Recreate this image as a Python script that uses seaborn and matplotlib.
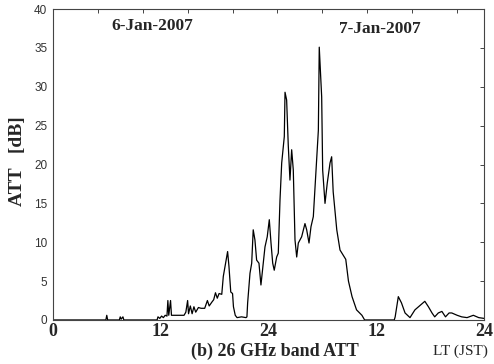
import numpy as np
import matplotlib
matplotlib.use("Agg")
import matplotlib.pyplot as plt
import seaborn as sns

# ---------------------------
# data
# ---------------------------
hours = [0.0, 5.9, 6.0, 6.1, 7.4, 7.5, 7.6, 7.8, 7.9, 11.6, 11.7, 11.9, 12.1,
         12.3, 12.5, 12.7, 12.8, 12.9, 13.1, 13.2, 13.5, 14.0, 14.6, 14.8,
         15.0, 15.1, 15.3, 15.5, 15.7, 15.9, 16.2, 16.5, 16.9, 17.2, 17.4,
         17.7, 17.9, 18.1, 18.3, 18.5, 18.8, 18.97, 19.34, 19.45, 19.6, 19.8,
         20.0, 20.1, 20.3, 20.5, 21.0, 21.5, 21.6, 21.68, 21.94, 22.13, 22.3,
         22.49, 22.68, 22.94, 23.16, 23.42, 23.61, 23.86, 24.09, 24.28, 24.47,
         24.64, 24.91, 25.09, 25.28, 25.47, 25.76, 25.84, 26.02, 26.2, 26.39,
         26.58, 26.76, 26.95, 27.14, 27.32, 27.69, 28.06, 28.25, 28.51, 28.73,
         28.99, 29.18, 29.55, 29.65, 29.92, 30.03, 30.29, 30.54, 30.85, 31.03,
         31.2, 31.6, 31.96, 32.6, 32.9, 33.3, 33.8, 34.4, 34.7, 38.0, 38.1,
         38.45, 38.8, 39.2, 39.75, 40.3, 40.9, 41.4, 41.8, 42.2, 42.5, 42.9,
         43.3, 43.7, 44.1, 44.4, 45.0, 45.5, 46.1, 46.8, 47.4, 48.0]
att_db = [0.0, 0.0, 0.6, 0.0, 0.0, 0.4, 0.1, 0.4, 0.0, 0.0, 0.4, 0.2, 0.5,
          0.3, 0.6, 0.5, 2.5, 0.6, 2.5, 0.6, 0.6, 0.6, 0.6, 1.0,
          2.5, 0.8, 1.8, 0.8, 1.7, 1.0, 1.6, 1.5, 1.5, 2.5, 1.8,
          2.3, 2.6, 3.5, 2.8, 3.4, 3.3, 5.6, 8.1, 8.8, 6.9, 3.6,
          3.4, 1.7, 0.6, 0.3, 0.4, 0.3, 0.4, 2.2, 6.0, 7.3, 11.6,
          10.3, 7.7, 7.3, 4.5, 7.3, 9.4, 10.7, 12.9, 9.9, 7.3,
          6.4, 8.1, 8.6, 15.4, 20.2, 23.6, 29.3, 28.3, 22.5, 18.0,
          21.9, 19.3, 10.3, 8.1, 9.9, 10.7, 12.4, 11.6, 9.9, 12.0,
          13.3, 17.1, 24.4, 35.1, 28.7, 19.3, 15.0, 17.6, 20.2, 21.0,
          16.5, 11.6, 9.0, 7.8, 5.0, 3.0, 1.3, 0.6, 0.0, 0.0, 0.4,
          3.0, 2.2, 0.9, 0.3, 1.3, 1.9, 2.4, 1.7, 0.9, 0.4, 0.9,
          1.1, 0.4, 0.9, 0.9, 0.6, 0.4, 0.3, 0.6, 0.3, 0.2]

x_tick_pos = [0, 12, 24, 36, 48]
x_tick_labels = ["0", "12", "24", "12", "24"]
day_labels = ["6-Jan-2007", "7-Jan-2007"]

# ---------------------------
# plot
# ---------------------------
sns.set_style("white")
plt.rcParams["font.family"] = ["Liberation Serif", "DejaVu Serif"]

fig = plt.figure(figsize=(4.94, 3.64), dpi=100)
ax = fig.add_axes([0.107, 0.121, 0.873, 0.854])

sns.lineplot(x=hours, y=att_db, color="black", linewidth=0.9,
             estimator=None, ax=ax)

ax.set_xlim(0, 48)
ax.set_ylim(0, 40)

for s in ax.spines.values():
    s.set_color("#444444")
    s.set_linewidth(0.8)

# bottom: inward ticks every 6 h, labels at 12 h
ax.set_xticks(x_tick_pos)
ax.set_xticklabels(x_tick_labels, fontweight="bold", fontsize=13)
ax.set_xticks([6, 18, 30, 42], minor=True)
ax.tick_params(axis="x", which="both", direction="in", length=4,
               width=0.7, color="#444444", pad=2)

# left: outward ticks, sans labels
ax.set_yticks(range(0, 41, 5))
ax.tick_params(axis="y", direction="out", length=3, width=0.7,
               color="#444444", pad=1)
for lab in ax.get_yticklabels():
    lab.set_family(["Liberation Sans", "DejaVu Sans"])
    lab.set_fontsize(8.5)
    lab.set_color("#333333")

# top and right: mirrored inward ticks, no labels
top = ax.secondary_xaxis("top")
top.set_xticks(range(5, 48, 5))
top.set_xticklabels([])
top.tick_params(direction="in", length=3, width=0.7, color="#444444")
top.spines["top"].set_visible(False)
right = ax.secondary_yaxis("right")
right.set_yticks(range(5, 40, 5))
right.set_yticklabels([])
right.tick_params(direction="in", length=3, width=0.7, color="#444444")
right.spines["right"].set_visible(False)

ax.set_ylabel("ATT   [dB]", fontweight="bold", fontsize=14)
ax.yaxis.set_label_coords(-0.063, 0.51)
ax.set_xlabel("")

ax.text(11.1, 37.8, day_labels[0], ha="center", va="center",
        fontweight="bold", fontsize=12.5)
ax.text(36.4, 37.5, day_labels[1], ha="center", va="center",
        fontweight="bold", fontsize=12.5)

fig.text(0.557, 0.034, "(b) 26 GHz band ATT", ha="center", va="center",
         fontweight="bold", fontsize=13)
fig.text(0.933, 0.034, "LT (JST)", ha="center", va="center", fontsize=11)

fig.savefig("out.png", dpi=100)
